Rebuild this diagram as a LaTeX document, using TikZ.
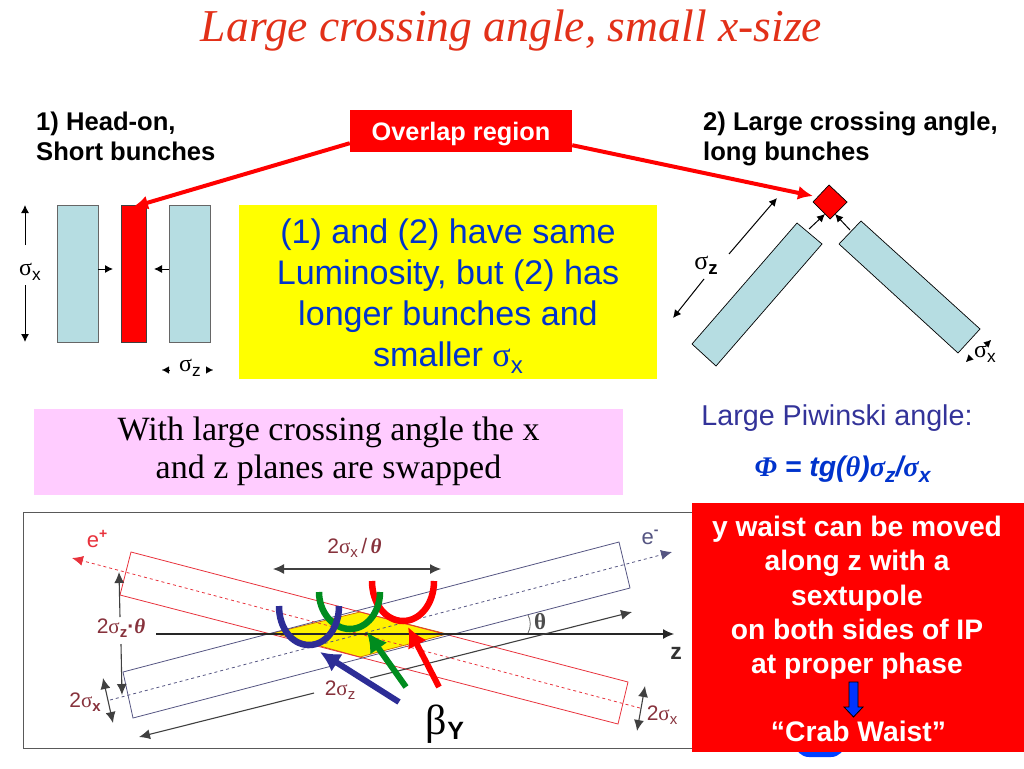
\documentclass[tikz,border=0pt]{standalone}
\usepackage{fontspec}
\setmainfont{Liberation Sans}
\newfontfamily\timesfont{Liberation Serif}
\usetikzlibrary{arrows.meta}
\definecolor{bunchblue}{RGB}{182,221,226}
\definecolor{slideyellow}{RGB}{255,255,0}
\definecolor{slidepink}{RGB}{255,204,255}
\definecolor{textblue}{RGB}{0,51,204}
\definecolor{piwinski}{RGB}{51,51,153}
\definecolor{labelred}{RGB}{135,50,60}
\definecolor{titlered}{RGB}{226,48,24}
\definecolor{ered}{RGB}{232,50,60}
\definecolor{eblue}{RGB}{85,85,130}
\definecolor{ugreen}{RGB}{0,140,30}
\definecolor{unavy}{RGB}{45,45,150}
\def\fsize#1{\fontsize{#1}{#1}\selectfont}
\def\sgm#1{{\timesfont\mdseries σ}\raisebox{-0.2em}{\fontsize{0.72em}{1em}\selectfont #1}}
\tikzset{
    bunch/.style = {draw = black!60, fill = bunchblue, line width = 0.8pt, inner sep = 0pt, minimum height = 137pt},
    thin arrow/.style = {-{Latex[length = 8pt, width = 8pt]}, line width = 1pt},
    small tip/.style = {-{Latex[length = 7pt, width = 7pt]}, line width = 0.1pt},
    call arrow/.style = {-{Latex[length = 15pt, width = 14pt]}, red, line width = 4pt},
    beam/.style = {line width = 0.8pt},
    dim arrow/.style = {{Latex[length = 11pt, width = 10pt]}-{Latex[length = 11pt, width = 10pt]}, black!75, line width = 1.1pt},
    dim end/.style = {-{Latex[length = 11pt, width = 10pt]}, black!75, line width = 1.1pt},
    waist/.style = {line width = 6.5pt},
    beta arrow/.style = {-{Latex[length = 20pt, width = 21pt]}, line width = 6pt},
    plot label/.style = {text = labelred, font = \fsize{21}, inner sep = 0pt},
    head/.style = {font = \fontsize{25.6}{30}\selectfont\bfseries, align = left, anchor = north west, inner sep = 0pt}
}

\begin{document}
\begin{tikzpicture}[x = 1pt, y = -1pt]
    \useasboundingbox (0,0) rectangle (1024,768);

    \node (title) [text = titlered, font = \timesfont\fsize{45.6}\itshape, inner sep = 0pt] at (511.5,31) {Large crossing angle, small x-size};

    % head-on bunches
    \node (headon) [head] at (36,112) {1) Head-on,\\Short bunches};
    \node (bunchl) [bunch, minimum width = 41pt] at (77.5,273.5) {};
    \node (bunchc) [bunch, fill = red, draw = black!75, minimum width = 25pt] at (133.5,273.5) {};
    \node (bunchr) [bunch, minimum width = 41pt] at (190,273.5) {};
    \node (sigxl) [font = \fsize{24}, inner sep = 0pt] at (30,272) {\sgm{x}};
    \node (sigzl) [font = \fsize{24}, inner sep = 0pt] at (190,368) {\sgm{z}};
    \coordinate (sigxtop) at (25,205);
    \coordinate (sigxbot) at (25,342);
    \coordinate (hitl) at (113,269);
    \coordinate (hitr) at (154,269);
    \draw[thin arrow] (25,245) -- (sigxtop);
    \draw[thin arrow] (25,285) -- (sigxbot);
    \draw[thin arrow] (bunchl.east |- hitl) -- (hitl);
    \draw[thin arrow] (bunchr.west |- hitr) -- (hitr);
    \draw[small tip] (169,370) -- ++(-7,0);
    \draw[small tip] (206,370) -- ++(7,0);

    % overlap label
    \node (overlap) [fill = red, minimum width = 222pt, minimum height = 42pt, inner sep = 0pt] at (461,131) {};
    \node (overlaptext) [text = white, font = \fsize{25.3}\bfseries, inner sep = 0pt] at (461,134) {Overlap region};
    \coordinate (diamondleft) at (813,196);
    \draw[call arrow] ([yshift = 9pt]overlap.south west) -- (133,207);
    \draw[call arrow] ([yshift = 7pt]overlap.south east) -- (diamondleft);

    \node (yellowbox) [fill = slideyellow, minimum width = 418pt, minimum height = 174pt, inner sep = 0pt] at (448,292) {};
    \node (yellowtext) [text = textblue, font = \fontsize{34.1}{41}\selectfont, align = center, inner sep = 0pt] at (448,296) {(1) and (2) have same\\Luminosity, but (2) has\\longer bunches and\\smaller {\timesfont σ}\raisebox{-0.2em}{\fontsize{24}{24}\selectfont x}};
    \node (pinkbox) [fill = slidepink, minimum width = 589pt, minimum height = 86pt, inner sep = 0pt] at (328.5,452) {};
    \node (pinktext) [font = \timesfont\fontsize{34}{38}\selectfont, align = center, inner sep = 0pt] at (328.5,451) {With large crossing angle the x\\and z planes are swapped};

    % crossing bunches
    \node (crossing) [head] at (703,112) {2) Large crossing angle,\\long bunches};
    \draw[draw = black, fill = bunchblue, line width = 0.7pt] (797,223) -- (822,244) -- (716,366) -- (692,344) -- cycle;
    \draw[draw = black, fill = bunchblue, line width = 0.7pt] (861,221) -- (980,329) -- (958,353) -- (839,244) -- cycle;
    \draw[draw = black, fill = red, line width = 0.7pt] (829,185) -- (847,202) -- (830,219) -- (813,202) -- cycle;
    \node (sigzr) [font = \fsize{26}\bfseries, inner sep = 0pt] at (706,265) {\sgm{z}};
    \node (sigxr) [font = \fsize{24}, inner sep = 0pt] at (985,354) {\sgm{x}};
    \coordinate (tipl) at (825,214);
    \coordinate (tipr) at (835,214);
    \draw[thin arrow] (809,229) -- (tipl);
    \draw[thin arrow] (850,230) -- (tipr);
    \draw[thin arrow] (729,254) -- (777,198);
    \draw[thin arrow] (704,279) -- (673,318);
    \draw[small tip] (986,345) -- (991,340);
    \draw[small tip] (971,357) -- (966,362);

    \node (piwlabel) [text = piwinski, font = \fsize{28.7}, inner sep = 0pt] at (837,418) {Large Piwinski angle:};
    \node (piwformula) [text = textblue, font = \fsize{28.4}\bfseries\itshape, inner sep = 0pt] at (842.5,469) {{\timesfont Φ} = tg({\timesfont θ}){\timesfont σ}\raisebox{-0.2em}{\fsize{21}z}/{\timesfont σ}\raisebox{-0.2em}{\fsize{21}x}};

    % crossing plot
    \node (plotframe) [draw = black!65, line width = 1pt, minimum width = 700pt, minimum height = 236pt, inner sep = 0pt] at (373.5,630) {};
    \draw[fill = yellow, draw = orange!80!black, line width = 0.7pt] (273,633) -- (360,612) -- (447,634) -- (360,657) -- cycle;
    \draw[beam, ered] (131,552) -- (628,682) -- (618,724) -- (120,595) -- cycle;
    \draw[beam, eblue] (619,542) -- (630,588) -- (133,718) -- (123,672) -- cycle;
    \coordinate (etipl) at (72,558);
    \coordinate (etipr) at (672,552);
    \draw[beam, ered, dashed, -{Latex[length = 11pt, width = 10pt]}] (640,708) -- (etipl);
    \draw[beam, eblue, dashed, -{Latex[length = 11pt, width = 10pt]}] (110,700) -- (etipr);
    \node (eplus) [text = ered, font = \fsize{22}, inner sep = 0pt] at (97,539) {e\raisebox{0.45em}{\fsize{14}\bfseries+}};
    \node (eminus) [text = eblue, font = \fsize{22}, inner sep = 0pt] at (650,537) {e\raisebox{0.45em}{\fsize{14}\bfseries-}};
    \node (zlabel) [text = black!80, font = \fsize{23}\bfseries, inner sep = 0pt] at (676,653) {z};
    \node (thetalabel) [text = black!70, font = \timesfont\fsize{23}\bfseries, inner sep = 0pt] at (540,622) {θ};
    \coordinate (ztip) at (674,634);
    \coordinate (tiltip) at (632,612);
    \draw[-{Latex[length = 11pt, width = 10pt]}, black!85, line width = 1.1pt] (156,634) -- (ztip);
    \draw[dim end] (370,678) -- (tiltip);
    \draw[black!60, line width = 0.8pt] (528,615) .. controls (531,620) and (531,628) .. (528,633);
    \draw[dim arrow] (273,569) -- (441,569);
    \draw[dim end] (120,617) -- (119,572);
    \draw[dim end] (121,644) -- (122,695);
    \draw[dim arrow] (103,678) -- (113,723);
    \draw[dim arrow] (645,686) -- (637,731);
    \draw[dim end] (314,693) -- (139,737);
    \node (thetax) [plot label] at (354.5,548) {2{\timesfont σ}\raisebox{-0.2em}{\fsize{15}x}\,/\,{\timesfont\bfseries\itshape θ}};
    \node (thetaz) [plot label] at (121,628) {2{\timesfont σ}\raisebox{-0.2em}{\fsize{15}\bfseries z}{\bfseries·}{\timesfont\bfseries\itshape θ}};
    \node (twosxl) [plot label] at (85,702) {2{\timesfont σ}\raisebox{-0.2em}{\fsize{15}\bfseries x}};
    \node (twosz) [plot label] at (340,690) {2{\timesfont σ}\raisebox{-0.2em}{\fsize{15}z}};
    \node (twosxr) [plot label] at (662,715) {2{\timesfont σ}\raisebox{-0.2em}{\fsize{15}x}};

    % waist curves
    \draw[waist, red] (372,581) .. controls (372,604) and (386,621) .. (403,621) .. controls (420,621) and (434,604) .. (434,581);
    \draw[waist, ugreen] (319,592) .. controls (319,612) and (333,629) .. (350,629) .. controls (367,629) and (380,612) .. (380,592);
    \draw[waist, unavy] (279,606) .. controls (279,628) and (292,645) .. (309,645) .. controls (326,645) and (339,628) .. (339,606);
    \draw[beta arrow, red] (439,687) -- (408,627);
    \draw[beta arrow, ugreen] (406,687) -- (367,632);
    \draw[beta arrow, unavy] (399,702) -- (320,652);
    \node (betay) [font = \fsize{42}, inner sep = 0pt] at (445,724) {{\timesfont β}\raisebox{-0.12em}{\fsize{25}\bfseries Y}};

    % crab waist box
    \node (blob) [fill = blue!75!cyan, rounded corners = 14pt, minimum width = 50pt, minimum height = 30pt, inner sep = 0pt] at (820,742) {};
    \node (redbox) [fill = red, anchor = north west, minimum width = 332pt, minimum height = 249pt, inner sep = 0pt] at (692,503) {};
    \node (redtext) [text = white, font = \fontsize{28.2}{34.2}\selectfont\bfseries, align = center, anchor = north, inner sep = 0pt] at (857,516) {y waist can be moved\\along z with a\\sextupole\\on both sides of IP\\at proper phase};
    \node (crab) [text = white, font = \fsize{28.3}\bfseries, inner sep = 0pt] at (858.5,731) {“Crab Waist”};
    \draw[fill = blue!80!cyan, draw = black, line width = 0.8pt] (849,682) -- (858,682) -- (858,707) -- (863,707) -- (853.5,717) -- (844,707) -- (849,707) -- cycle;

\end{tikzpicture}
\end{document}
